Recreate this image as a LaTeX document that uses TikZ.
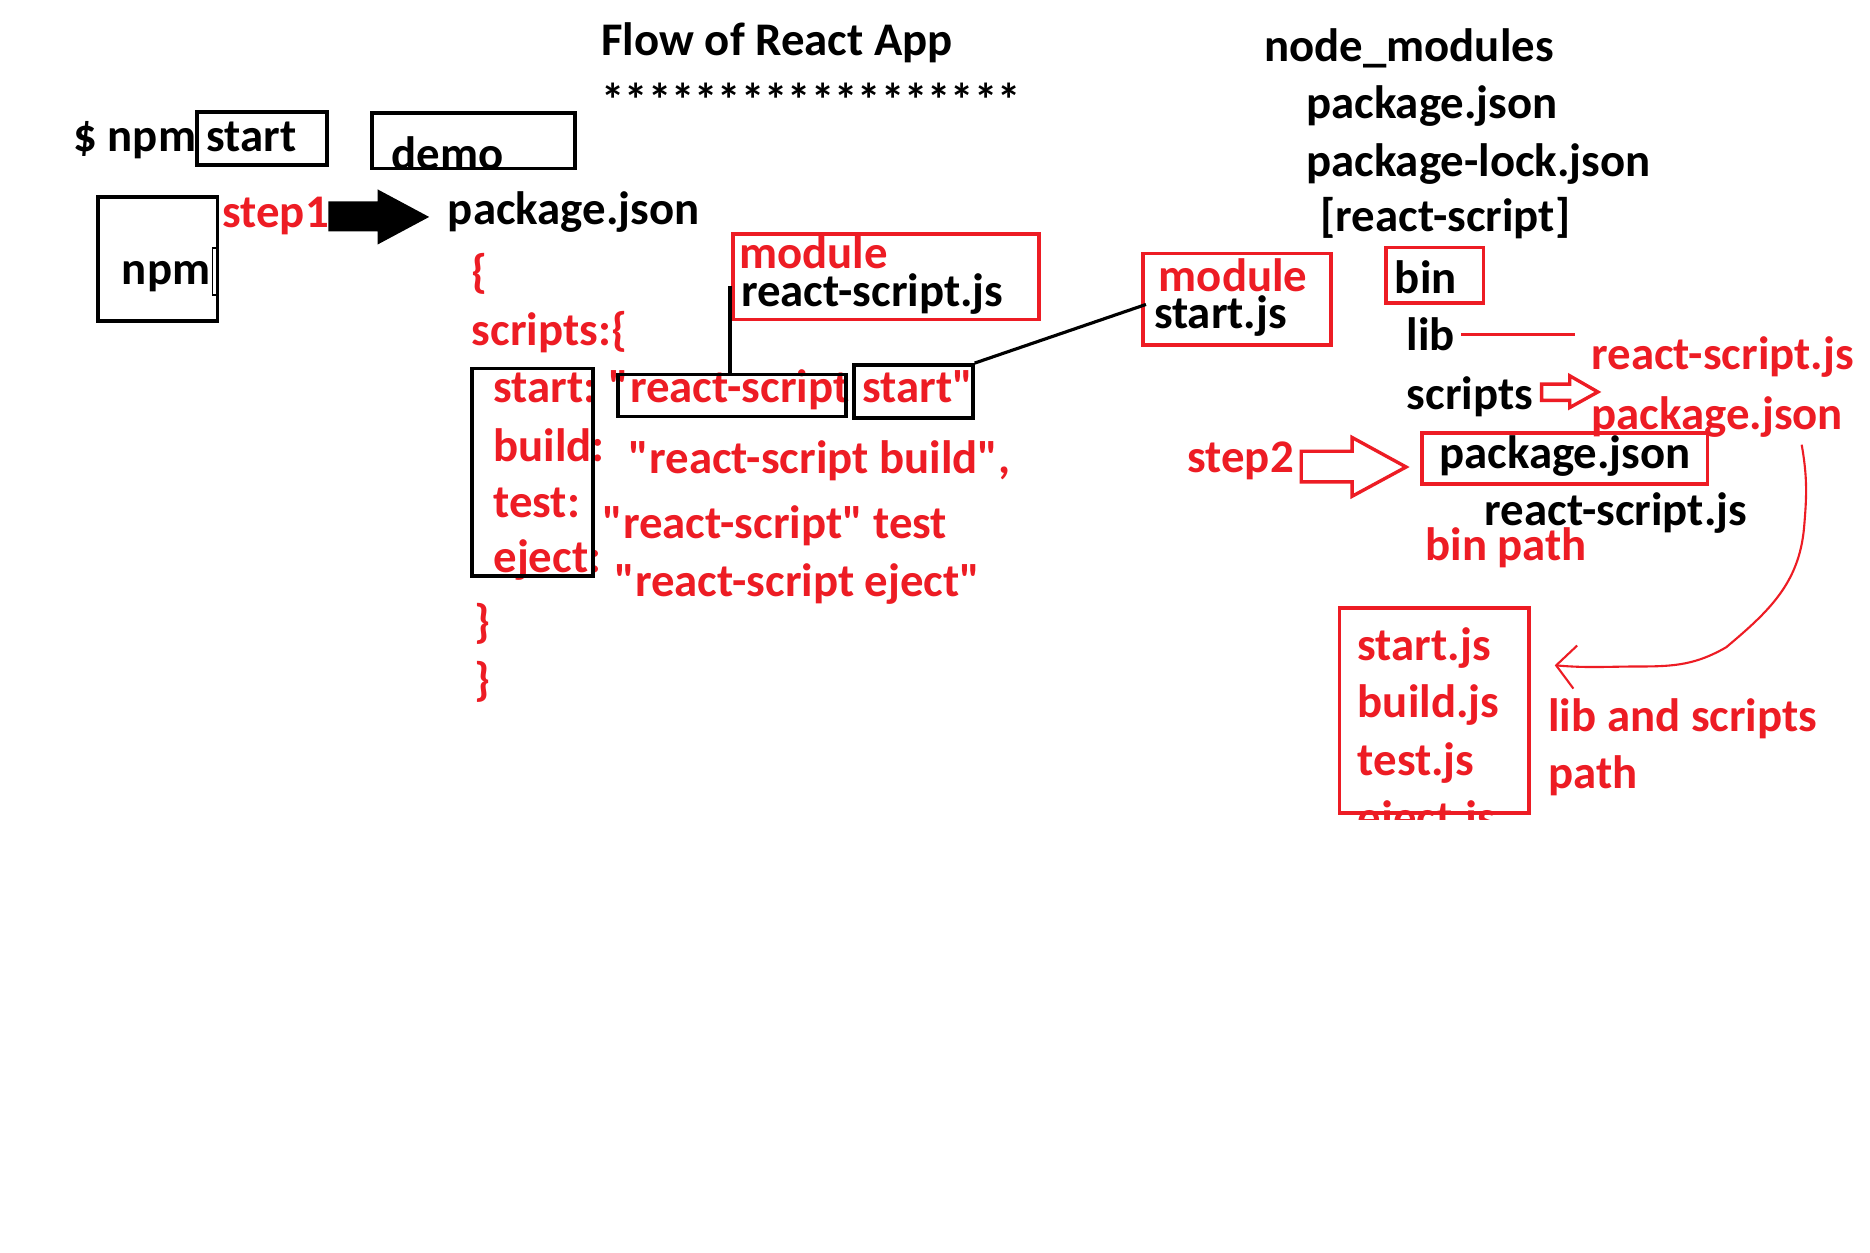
\documentclass[tikz,border=0pt]{standalone}
\usepackage{fontspec}
\setmainfont{Carlito}[Ligatures=TeXOff]
\usetikzlibrary{fit,arrows.meta}
\definecolor{pred}{RGB}{237,28,36}

\begin{document}
\begin{tikzpicture}[x=0.01cm, y=-0.01cm, line join=miter,
    txt/.style={font=\fontsize{11.1}{13}\selectfont\bfseries, inner sep=0pt, anchor=base west},
    rtxt/.style={txt, text=pred},
    kbox/.style={draw, line width=0.9pt, inner sep=0pt, fit={#1}},
    rbox/.style={draw=pred, line width=0.9pt, inner sep=0pt, fit={#1}},
    conn/.style={line width=0.75pt},
    rline/.style={draw=pred, line width=0.7pt}]
    \fill[white] (0,0) rectangle (1560,1045.3);
    \useasboundingbox (0,0) rectangle (1560,1045.3);
    % left part
    \node[txt] (title) at (501,45.9) {Flow of React App};
    \node[txt] (stars) at (501,97) {******************};
    \node[txt] (dollar) at (60.6,126.5) {\$ npm};
    \node[txt] (startw) at (171.7,126.5) {start};
    \begin{scope}
        \clip (309,93) rectangle (481,142);
        \node[txt] (demo) at (326,141) {demo};
    \end{scope}
    \node[txt] (npm) at (101,237) {npm};
    \node[rtxt] (step1) at (185,190) {step1};
    \node[txt] (pkg) at (373,187) {package.json};
    \node[rtxt] (ob1) at (393,240) {\{};
    \node[rtxt] (scr) at (393,288.6) {scripts:\{};
    \foreach \key/\yy [count=\i] in {start:/336, build:/385, test:/432, eject:/478}
        \node[rtxt] (key\i) at (411,\yy) {\key};
    \node[rtxt] (quo) at (507,336) {"};
    \node[rtxt] (vreact) at (525,336) {react-script};
    \node[rtxt] (vstart) at (719,336) {start"};
    \node[rtxt] (vbuild) at (524,395) {"react-script build",};
    \node[rtxt] (vtest) at (502,449) {"react-script" test};
    \node[rtxt] (veject) at (512,498) {"react-script eject"};
    \node[rtxt] (cb1) at (395,532) {\}};
    \node[rtxt] (cb2) at (395,580) {\}};
    \node[rtxt] (mod1) at (616,224) {module};
    \node[txt] (mod1js) at (617.5,256) {react-script.js};
    \node[rtxt] (mod2) at (966,243.6) {module};
    \node[txt] (mod2js) at (962,274) {start.js};
    % right part
    \node[txt] (nodemod) at (1054,51.4) {node\_modules};
    \node[txt] (rpkg) at (1089,98.7) {package.json};
    \node[txt] (rlock) at (1089,147.4) {package-lock.json};
    \node[txt] (rrs) at (1101,193) {[react-script]};
    \node[txt] (bin) at (1163,245) {bin};
    \node[txt] (lib) at (1173,292.5) {lib};
    \node[txt] (scr2) at (1173,342) {scripts};
    \node[rtxt] (rsjs) at (1327,308) {react-script.js};
    \node[rtxt] (pkjs) at (1327,358.6) {package.json};
    \node[rtxt] (step2) at (990,394) {step2};
    \node[txt] (pkg3) at (1200,390.5) {package.json};
    \node[txt] (rs3) at (1238,438) {react-script.js};
    \node[rtxt] (binpath) at (1188.5,468) {bin path};
    \foreach \f/\yy [count=\i] in {start/551, build/598.5, test/647}
        \node[rtxt] (file\i) at (1132,\yy) {\f.js};
    \begin{scope}
        \clip (1110,600) rectangle (1290,684);
        \node[rtxt] (file4) at (1132,695) {eject.js};
    \end{scope}
    \node[rtxt] (libscr) at (1291,610) {lib and scripts};
    \node[rtxt] (libpath) at (1291,658) {path};
    % boxes
    \node[kbox={(164.5,93.5) (272.5,137.5)}] (startbox) {};
    \node[kbox={(310.5,94.5) (479.5,140.5)}] (demobox) {};
    \node[kbox={(81.5,164.5) (181.5,267.5)}] (npmbox) {};
    \node[kbox={(393.5,307.5) (494.5,480.5)}] (keybox) {};
    \node[kbox={(515.5,312.5) (705.5,347.5)}] (rsbox) {};
    \node[kbox={(712.5,304.5) (811.5,348.5)}] (stbox) {};
    \node[rbox={(611.5,195.5) (866.5,266.5)}] (mod1box) {};
    \node[rbox={(953.5,211.5) (1110.5,287.5)}] (mod2box) {};
    \node[rbox={(1156.5,206.5) (1237.5,252.5)}] (binbox) {};
    \node[rbox={(1186.5,361.5) (1424.5,403.5)}] (pkgbox) {};
    \node[rbox={(1117.5,507) (1275.5,678.5)}] (filebox) {};
    \draw[line width=0.3pt] (177,207) rectangle (180.5,246);
    % connectors
    \coordinate (m1pt) at (609,239);
    \coordinate (m2pt) at (956,254);
    \draw[conn] (m1pt) -- (m1pt |- rsbox.north);
    \draw[conn] (stbox.north east) -- (m2pt);
    \draw[rline] (lib.east) ++(4.5,0) -- ++(95,0);
    % block arrows
    \fill (274,168) -- (315,168) -- (315,158) -- (358,181) -- (315,204) -- (315,193) -- (274,193) -- cycle;
    \draw[rline, line width=0.8pt] (1286,320.5) -- (1309.5,320.5) -- (1309.5,313.5) -- (1333,327) -- (1309.5,340) -- (1309.5,334) -- (1286,334) -- cycle;
    \draw[rline, line width=0.8pt] (1085.5,376.5) -- (1128,376.5) -- (1128,365) -- (1173,389.6) -- (1128,414) -- (1128,402) -- (1085.5,402) -- cycle;
    \coordinate (cstart) at (1503,371);
    \coordinate (cend) at (1297,555);
    \draw[pred, line width=0.5pt, -{Straight Barb[length=1.6mm, width=3.6mm]}]
        (cstart) to[out=-80, in=85] (1505,440) to[out=-95, in=40] (1440,540)
        to[out=-150, in=0] (1369,556) to[out=180, in=-5] (cend);
\end{tikzpicture}
\end{document}
